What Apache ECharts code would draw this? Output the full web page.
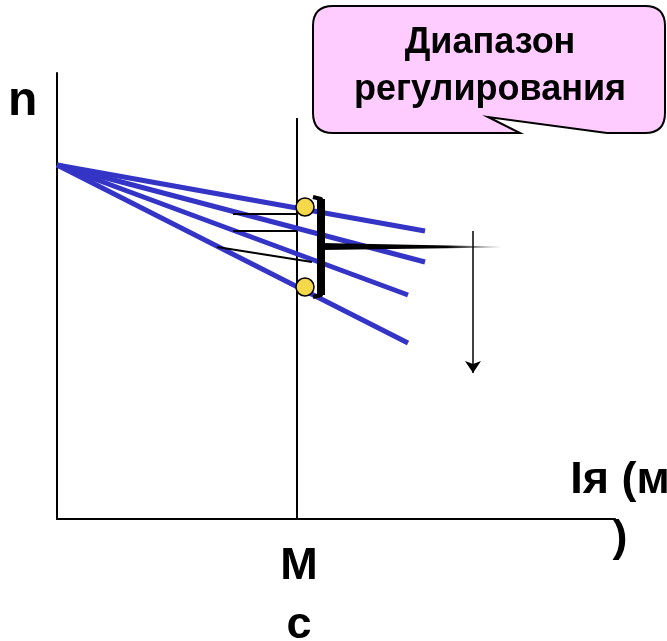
<!DOCTYPE html>
<html>
<head>
<meta charset="utf-8">
<script src="https://cdn.jsdelivr.net/npm/echarts@6/dist/echarts.min.js"></script>
<style>
  html, body { margin: 0; padding: 0; background: #fff; }
  #main { width: 667px; height: 641px; }
</style>
</head>
<body>
<div id="main"></div>
<script>
// coordinates: x from the n axis, y up from the Iя axis
var fanOrigin = [0, 354];
var fanEnds = [[368, 288], [368, 257], [351, 224], [351, 176]];
var mcLine = [[240, 0], [240, 401]];
var rangePoints = [[248, 312], [248, 232]];
var guideLines = [
  [[176, 305], [240, 305]],
  [[176, 288], [240, 288]],
  [[160, 272], [255, 257]]
];
var bracket = [[256, 322], [264, 320], [264, 224], [256, 222]];
var wedge = [[264, 272], [443, 272]];
var arrow = [[416, 288], [416, 146]];

var calloutText = 'Диапазон\nрегулирования';
var yName = 'n';
var xName = 'Iя (м\n)';
var mcName = 'М\nс';

var myChart = echarts.init(document.getElementById('main'));
var font = '"Liberation Sans", Arial, sans-serif';

var option = {
  animation: false,
  backgroundColor: '#fff',
  grid: { left: 57, right: 52, top: 73, bottom: 122 },
  xAxis: {
    type: 'value', min: 0, max: 558,
    axisLine: { show: true, lineStyle: { color: '#000', width: 2 } },
    axisTick: { show: false }, axisLabel: { show: false }, splitLine: { show: false }
  },
  yAxis: {
    type: 'value', min: 0, max: 446,
    axisLine: { show: true, lineStyle: { color: '#000', width: 2 } },
    axisTick: { show: false }, axisLabel: { show: false }, splitLine: { show: false }
  },
  series: [
    {
      type: 'lines', coordinateSystem: 'cartesian2d', z: 2,
      lineStyle: { color: '#000', width: 2, opacity: 1 },
      data: [{ coords: mcLine }]
    },
    {
      type: 'lines', coordinateSystem: 'cartesian2d', z: 3,
      lineStyle: { color: '#3434c6', width: 5, opacity: 1 },
      data: fanEnds.map(function (e) { return { coords: [fanOrigin, e] }; })
    },
    {
      type: 'lines', coordinateSystem: 'cartesian2d', z: 4,
      lineStyle: { color: '#000', width: 2, opacity: 1 },
      data: guideLines.map(function (l) { return { coords: l }; })
    },
    {
      type: 'lines', coordinateSystem: 'cartesian2d', polyline: true, z: 5,
      lineStyle: { color: '#000', width: 4, opacity: 1, join: 'round' },
      data: [{ coords: bracket }]
    },
    {
      type: 'lines', coordinateSystem: 'cartesian2d', z: 5,
      lineStyle: { color: '#000', width: 8, opacity: 1 },
      data: [{ coords: [bracket[1], bracket[2]] }]
    },
    {
      type: 'custom', z: 5,
      data: [[wedge[0][0], wedge[0][1], wedge[1][0], wedge[1][1]]],
      renderItem: function (params, api) {
        var a = api.coord([api.value(0), api.value(1)]);
        var b = api.coord([api.value(2), api.value(3)]);
        return {
          type: 'polygon',
          shape: { points: [[a[0], a[1] - 4], [b[0], b[1] - 0.5], [b[0], b[1] + 0.5], [a[0], a[1] + 3]] },
          style: {
            fill: {
              type: 'linear', x: 0, y: 0, x2: 1, y2: 0,
              colorStops: [
                { offset: 0, color: '#000' },
                { offset: 0.7, color: '#000' },
                { offset: 1, color: 'rgba(0,0,0,0.05)' }
              ]
            }
          }
        };
      }
    },
    {
      type: 'lines', coordinateSystem: 'cartesian2d', z: 5,
      symbol: ['none', 'arrow'], symbolSize: [9, 12],
      lineStyle: { color: '#000', width: 1.5, opacity: 1 },
      data: [{ coords: arrow }]
    },
    {
      type: 'scatter', z: 6,
      symbolSize: 18,
      itemStyle: { color: '#f6d94b', borderColor: '#000', borderWidth: 1.5, opacity: 1 },
      data: rangePoints
    },
    {
      // callout bubble, drawn in pixels
      type: 'custom', coordinateSystem: 'none', z: 10, silent: true,
      data: [0],
      renderItem: function () {
        return {
          type: 'path',
          shape: {
            pathData: 'M333 6 L645 6 Q665 6 665 26 L665 113 Q665 133 645 133 L607 133 L488 117 L520 133 L333 133 Q313 133 313 113 L313 26 Q313 6 333 6 Z'
          },
          style: { fill: '#ffccff', stroke: '#000', lineWidth: 2 }
        };
      }
    }
  ],
  graphic: [
    {
      type: 'text', z: 11, x: 490, y: 20,
      style: {
        text: calloutText, font: 'bold 36px ' + font, fill: '#000',
        align: 'center', verticalAlign: 'top', lineHeight: 47
      }
    },
    {
      type: 'text', z: 11, x: 8, y: 78,
      style: { text: yName, font: 'bold 48px ' + font, fill: '#000', align: 'left', verticalAlign: 'top', lineHeight: 48 }
    },
    {
      type: 'text', z: 11, x: 620, y: 452,
      style: { text: xName, font: 'bold 45px ' + font, fill: '#000', align: 'center', verticalAlign: 'top', lineHeight: 58 }
    },
    {
      type: 'text', z: 11, x: 299, y: 537,
      style: { text: mcName, font: 'bold 45px ' + font, fill: '#000', align: 'center', verticalAlign: 'top', lineHeight: 59 }
    }
  ]
};
myChart.setOption(option);
</script>
</body>
</html>
